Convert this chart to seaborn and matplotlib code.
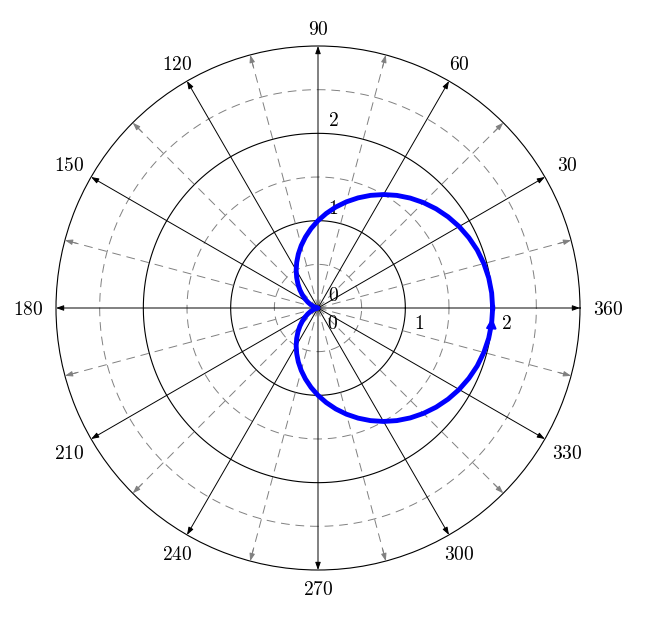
import numpy as np
import matplotlib
matplotlib.use("Agg")
import matplotlib.pyplot as plt
import seaborn as sns

# cardioid, every 5 degrees
angle_deg = list(range(0, 361, 5))
radius = [2.0, 1.996, 1.985, 1.966, 1.940, 1.906, 1.866, 1.819, 1.766, 1.707,
          1.643, 1.574, 1.5, 1.423, 1.342, 1.259, 1.174, 1.087, 1.0, 0.913,
          0.826, 0.741, 0.658, 0.577, 0.5, 0.426, 0.357, 0.293, 0.234, 0.181,
          0.134, 0.094, 0.060, 0.034, 0.015, 0.004, 0.0, 0.004, 0.015, 0.034,
          0.060, 0.094, 0.134, 0.181, 0.234, 0.293, 0.357, 0.426, 0.5, 0.577,
          0.658, 0.741, 0.826, 0.913, 1.0, 1.087, 1.174, 1.259, 1.342, 1.423,
          1.5, 1.574, 1.643, 1.707, 1.766, 1.819, 1.866, 1.906, 1.940, 1.966,
          1.985, 1.996, 2.0]

angle_ticks = [30, 60, 90, 120, 150, 180, 210, 240, 270, 300, 330, 360]
minor_angles = [15, 45, 75, 105, 135, 165, 195, 225, 255, 285, 315, 345]
r_ticks = [0, 1, 2]
r_minor = [0.5, 1.5, 2.5]
r_max = 3

plt.rcParams['mathtext.fontset'] = 'cm'
plt.rcParams['font.family'] = 'serif'

fig = plt.figure(figsize=(6.56, 6.2), dpi=100)
ax = fig.add_axes([56/656, 50/620, 524/656, 524/620], projection='polar')
ax.set_ylim(0, r_max)
ax.grid(False)
ax.set_xticks([])
ax.set_yticks([])
ax.spines['polar'].set_linewidth(0.8)

full = np.linspace(0, 2*np.pi, 400)
for r in r_ticks[1:]:
    ax.plot(full, [r]*len(full), color='black', lw=0.8, zorder=1)
for r in r_minor:
    ax.plot(full, [r]*len(full), color='#808080', lw=0.7, ls=(0, (9, 6)), zorder=1)

def axis_line(deg, color, dashed):
    t = np.radians(deg)
    if dashed:
        ax.plot([t, t], [0, r_max*0.97], color=color, lw=0.7, ls=(0, (9, 6)), zorder=1)
        start = r_max*0.95
    else:
        start = 0
    ax.annotate('', xy=(t, r_max), xytext=(t, start),
                arrowprops=dict(arrowstyle='-|>,head_length=0.45,head_width=0.16',
                                color=color, lw=0.7, shrinkA=0, shrinkB=0),
                zorder=2)

for d in angle_ticks:
    axis_line(d, 'black', False)
for d in minor_angles:
    axis_line(d, '#808080', True)

theta = np.radians(angle_deg)
sns.lineplot(x=theta, y=radius, ax=ax, sort=False, color='#0000ff',
             linewidth=3.5, zorder=5)
ax.annotate('', xy=(theta[-1], radius[-1]), xytext=(theta[-2], radius[-2]),
            arrowprops=dict(arrowstyle='-|>,head_length=0.6,head_width=0.3',
                            color='#0000ff', lw=1.5, shrinkA=0, shrinkB=7),
            zorder=6)
ax.set_xlabel('')
ax.set_ylabel('')

for d in angle_ticks:
    t = np.radians(d)
    rl = 3.206 + 0.115*np.cos(t)**2
    ax.annotate(f'${d}$', xy=(t, rl), xytext=(0, -2), textcoords='offset pixels',
                ha='center', va='center', fontsize=14, annotation_clip=False)

for r in r_ticks:
    ax.annotate(f'${r}$', xy=(np.pi/2, r), xytext=(15, 12), textcoords='offset pixels',
                ha='center', va='center', fontsize=14, annotation_clip=False)
    ax.annotate(f'${r}$', xy=(0, r), xytext=(14, -16), textcoords='offset pixels',
                ha='center', va='center', fontsize=14, annotation_clip=False)

fig.savefig('out.png', dpi=100)
